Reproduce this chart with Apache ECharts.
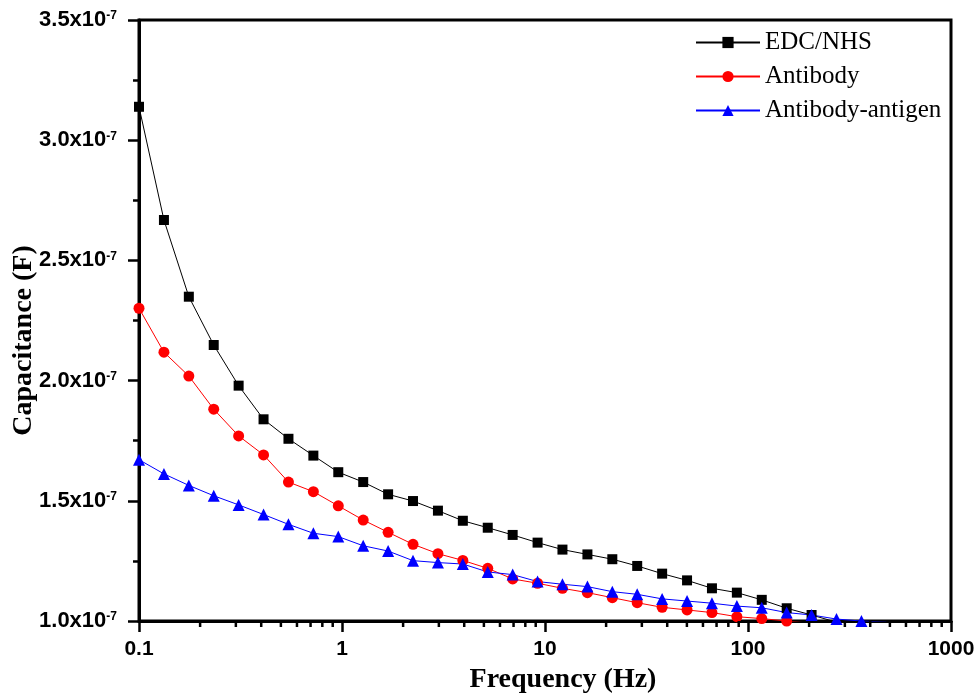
<!DOCTYPE html>
<html>
<head>
<meta charset="utf-8">
<title>Capacitance vs Frequency</title>
<script src="https://cdn.jsdelivr.net/npm/echarts@6/dist/echarts.min.js"></script>
<style>
  html, body { margin: 0; padding: 0; background: #fff; }
  #chart { width: 978px; height: 695px; }
</style>
</head>
<body>
<div id="chart"></div>
<script>
// Frequency points of the impedance sweep (Hz)
const freq = [0.1, 0.1327, 0.176, 0.2334, 0.3096, 0.4107, 0.5448, 0.7227, 0.9587, 1.272,
  1.687, 2.238, 2.969, 3.938, 5.224, 6.93, 9.193, 12.19, 16.18, 21.46,
  28.46, 37.76, 50.09, 66.44, 88.14, 116.9, 155.1, 205.7, 272.9, 362, 480.2];

// Capacitance in units of 1e-7 F
const capEdcNhs = [3.139, 2.668, 2.349, 2.148, 1.979, 1.839, 1.758, 1.688, 1.619, 1.578,
  1.527, 1.499, 1.459, 1.417, 1.388, 1.358, 1.326, 1.297, 1.277, 1.257,
  1.229, 1.197, 1.169, 1.136, 1.118, 1.088, 1.053, 1.025, 0.995];
const capAntibody = [2.301, 2.118, 2.019, 1.881, 1.770, 1.691, 1.578, 1.538, 1.479, 1.420,
  1.369, 1.319, 1.280, 1.252, 1.219, 1.175, 1.157, 1.136, 1.118, 1.097,
  1.076, 1.057, 1.046, 1.035, 1.018, 1.010, 1.000, 0.990];
const capAntigen = [1.671, 1.612, 1.564, 1.521, 1.483, 1.443, 1.402, 1.365, 1.351, 1.313,
  1.291, 1.251, 1.243, 1.237, 1.204, 1.193, 1.164, 1.153, 1.143, 1.122,
  1.111, 1.092, 1.083, 1.074, 1.062, 1.055, 1.035, 1.025, 1.008, 1.000, 0.995];

const seriesNames = ['EDC/NHS', 'Antibody', 'Antibody-antigen'];

// Tick labels
const xTickLabels = [0.1, 1, 10, 100, 1000];
const yTickLabels = [1.0, 1.5, 2.0, 2.5, 3.0, 3.5];

// Minor ticks at 2..9 within each decade
const xMinorTicks = [];
for (let d = 0; d < xTickLabels.length - 1; d++) {
  for (let m = 2; m <= 9; m++) xMinorTicks.push(+(xTickLabels[d] * m).toPrecision(6));
}

const pairs = (ys) => ys.map((y, i) => [freq[i], y]);

const chart = echarts.init(document.getElementById('chart'), null, { renderer: 'canvas' });

const labelFont = '"Liberation Sans", Arial, sans-serif';
const serifFont = '"Liberation Serif", "Times New Roman", serif';
const yMin = yTickLabels[0];
const yMax = yTickLabels[yTickLabels.length - 1];

chart.setOption({
  animation: false,
  backgroundColor: '#fff',
  grid: {
    left: 139, right: 27, top: 20, bottom: 74,
    outerBoundsMode: 'none', containLabel: false,
    show: true, borderColor: '#000', borderWidth: 3, backgroundColor: 'transparent'
  },
  legend: {
    orient: 'vertical',
    left: 695, top: 30, padding: 0,
    itemWidth: 64, itemHeight: 14, itemGap: 9,
    textStyle: { fontFamily: serifFont, fontSize: 25, color: '#000' },
    data: seriesNames
  },
  xAxis: {
    type: 'log', logBase: 10, min: xTickLabels[0], max: xTickLabels[xTickLabels.length - 1],
    name: 'Frequency (Hz)', nameLocation: 'middle', nameGap: 45, nameMoveOverlap: false,
    nameTextStyle: { fontFamily: serifFont, fontWeight: 'bold', fontSize: 28, color: '#000', padding: [0, 0, 0, 36] },
    axisLine: { lineStyle: { color: '#000', width: 3 } },
    axisTick: { inside: false, length: 11, lineStyle: { color: '#000', width: 2.5 } },
    axisLabel: {
      margin: 18, fontFamily: labelFont, fontWeight: 'bold', fontSize: 21, color: '#000',
      formatter: (v) => String(+Number(v).toPrecision(6))
    },
    splitLine: { show: false }
  },
  yAxis: {
    type: 'value', min: yMin, max: yMax, interval: 0.5,
    name: 'Capacitance (F)', nameLocation: 'middle', nameRotate: 90, nameGap: 101, nameMoveOverlap: false,
    nameTextStyle: { fontFamily: serifFont, fontWeight: 'bold', fontSize: 28, color: '#000', padding: [0, 40, 0, 0] },
    axisLine: { show: true, lineStyle: { color: '#000', width: 3 } },
    axisTick: { show: true, inside: false, length: 11, lineStyle: { color: '#000', width: 2.5 } },
    minorTick: { show: true, splitNumber: 2, length: 6, lineStyle: { color: '#000', width: 2.5 } },
    axisLabel: {
      margin: 22,
      formatter: (v) => '{b|' + v.toFixed(1) + 'x10}{s|-7}',
      rich: {
        b: { fontFamily: labelFont, fontWeight: 'bold', fontSize: 22, color: '#000' },
        s: { fontFamily: labelFont, fontWeight: 'bold', fontSize: 12, color: '#000', verticalAlign: 'top', padding: [1, 0, 0, 0] }
      }
    },
    splitLine: { show: false },
    minorSplitLine: { show: false }
  },
  series: [{
    name: seriesNames[0], type: 'line', data: pairs(capEdcNhs), clip: true,
    symbol: 'rect', symbolSize: 10,
    itemStyle: { color: '#000' },
    lineStyle: { color: '#000', width: 1 }
  }, {
    name: seriesNames[1], type: 'line', data: pairs(capAntibody), clip: true,
    symbol: 'circle', symbolSize: 11,
    itemStyle: { color: '#ff0000' },
    lineStyle: { color: '#ff0000', width: 1 }
  }, {
    name: seriesNames[2], type: 'line', data: pairs(capAntigen), clip: true,
    symbol: 'triangle', symbolSize: 12,
    itemStyle: { color: '#0000ff' },
    lineStyle: { color: '#0000ff', width: 1 }
  }, {
    // minor ticks of the logarithmic frequency axis (2..9 per decade)
    name: 'minor-ticks', type: 'custom', clip: false, silent: true, z: 4,
    data: xMinorTicks.map((v) => [v, yMin]),
    renderItem: (params, api) => {
      const p = api.coord([api.value(0), api.value(1)]);
      return {
        type: 'line',
        shape: { x1: p[0], y1: p[1], x2: p[0], y2: p[1] + 6 },
        style: { stroke: '#000', lineWidth: 2.5 }
      };
    }
  }]
});
</script>
</body>
</html>
